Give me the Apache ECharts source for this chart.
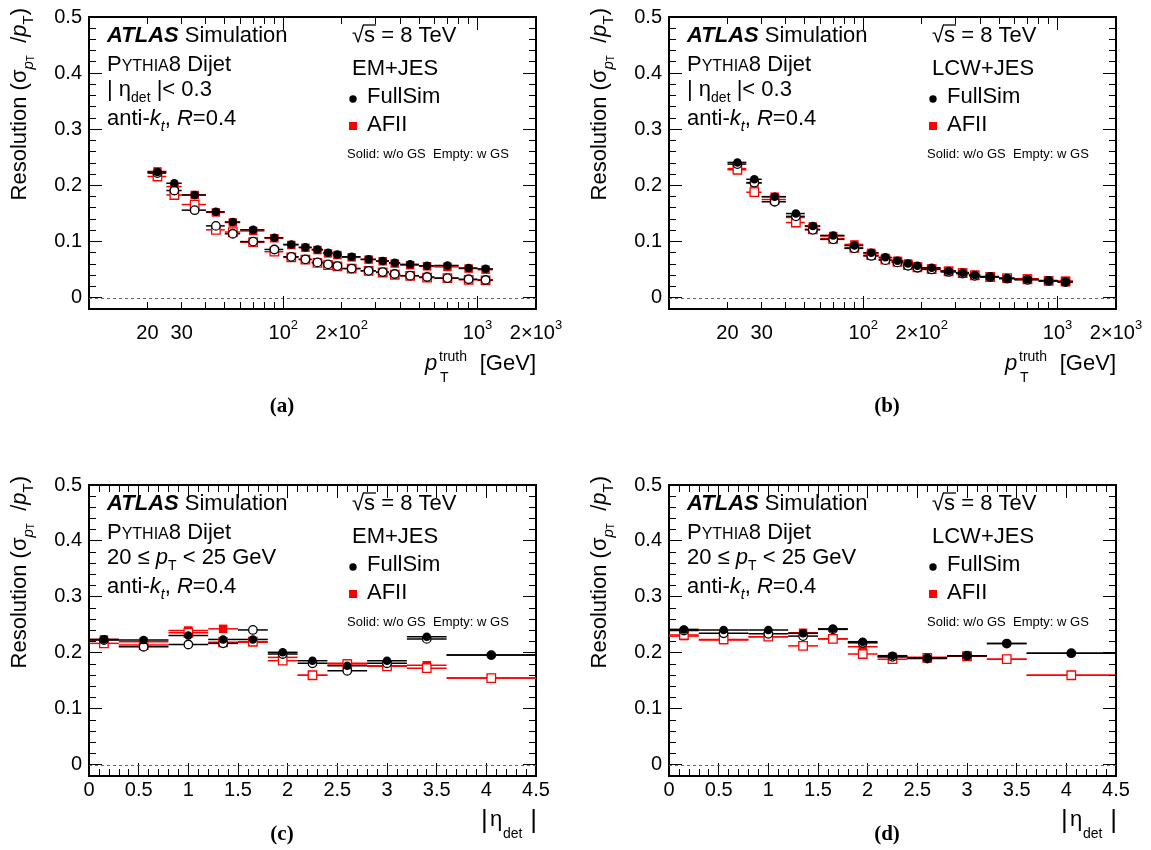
<!DOCTYPE html>
<html><head><meta charset="utf-8">
<script src="https://cdn.jsdelivr.net/npm/echarts@6/dist/echarts.min.js"></script>
<style>html,body{margin:0;padding:0;background:#fff}#c{width:1151px;height:850px}</style>
</head><body><div id="c"></div>
<script>
// ---------------- data ----------------
const ptEdges = [20,25,30,40,50,60,80,100,120,140,160,180,200,250,300,350,400,500,600,800,1000,1200];
const etaEdges = [0,0.3,0.8,1.2,1.5,1.8,2.1,2.4,2.8,3.2,3.6,4.5];

// (a) EM+JES vs pT, |eta|<0.3
const emPtFullSolid = [0.224,0.204,0.183,0.153,0.135,0.121,0.107,0.095,0.090,0.086,0.080,0.077,0.073,0.0685,0.0655,0.0625,0.0595,0.057,0.0575,0.053,0.0515];
const emPtFullEmpty = [0.222,0.191,0.156,0.128,0.114,0.100,0.086,0.073,0.0685,0.063,0.0595,0.0565,0.052,0.048,0.0458,0.0423,0.0393,0.037,0.035,0.033,0.0316];
const emPtAfiiSolid = [0.225,0.198,0.183,0.152,0.134,0.119,0.106,0.094,0.089,0.085,0.079,0.076,0.072,0.068,0.065,0.061,0.058,0.056,0.055,0.052,0.050];
const emPtAfiiEmpty = [0.216,0.183,0.166,0.121,0.117,0.099,0.082,0.072,0.068,0.062,0.058,0.056,0.052,0.048,0.045,0.041,0.039,0.036,0.035,0.032,0.031];

// (b) LCW+JES vs pT, |eta|<0.3
const lcwPtFullSolid = [0.241,0.211,0.180,0.150,0.128,0.111,0.093,0.080,0.072,0.066,0.061,0.057,0.0535,0.0476,0.0446,0.0405,0.0375,0.0346,0.0328,0.0303,0.028];
const lcwPtFullEmpty = [0.238,0.205,0.171,0.145,0.121,0.104,0.088,0.0745,0.067,0.063,0.057,0.0535,0.0505,0.046,0.043,0.039,0.037,0.034,0.032,0.030,0.028];
const lcwPtAfiiSolid = [0.230,0.204,0.180,0.143,0.127,0.110,0.095,0.080,0.071,0.066,0.061,0.056,0.052,0.048,0.045,0.041,0.038,0.035,0.034,0.031,0.030];
const lcwPtAfiiEmpty = [0.228,0.188,0.175,0.134,0.122,0.105,0.089,0.076,0.068,0.064,0.058,0.054,0.051,0.047,0.044,0.040,0.037,0.035,0.033,0.030,0.029];

// (c) EM+JES vs |eta|, 20<=pT<25 GeV
const emEtaFullSolid = [0.224,0.223,0.231,0.224,0.224,0.201,0.186,0.177,0.186,0.229,0.196];
const emEtaFullEmpty = [0.223,0.211,0.215,0.217,0.241,0.198,0.1815,0.168,0.1815,0.225,0.196];
const emEtaAfiiSolid = [0.224,0.220,0.240,0.243,0.219,0.192,0.160,0.1815,0.177,0.178,0.155];
const emEtaAfiiEmpty = [0.217,0.214,0.236,0.219,0.220,0.186,0.160,0.180,0.176,0.1726,0.155];

// (d) LCW+JES vs |eta|, 20<=pT<25 GeV
const lcwEtaFullSolid = [0.242,0.241,0.241,0.235,0.243,0.220,0.195,0.191,0.195,0.2167,0.1994];
const lcwEtaFullEmpty = [0.240,0.235,0.234,0.230,0.242,0.218,0.193,0.190,0.195,0.2167,0.1994];
const lcwEtaAfiiSolid = [0.230,0.223,0.229,0.236,0.225,0.211,0.193,0.192,0.194,0.1887,0.160];
const lcwEtaAfiiEmpty = [0.232,0.224,0.229,0.2125,0.225,0.198,0.1887,0.191,0.194,0.1887,0.160];

// ticks / labels
const yLabelTicks = [0,0.1,0.2,0.3,0.4,0.5];
const yMinorTicks = [0.02,0.04,0.06,0.08,0.12,0.14,0.16,0.18,0.22,0.24,0.26,0.28,0.32,0.34,0.36,0.38,0.42,0.44,0.46,0.48];
const ptLabelTicks = [20,30,100,200,1000,2000];
const ptLabelTexts = ['{m|20}','{m|30}','{m|10}{e|2}','{m|2×10}{e|2}','{m|10}{e|3}','{m|2×10}{e|3}'];
const ptMajorTicks = [100,1000];
const ptMinorTicks = [20,30,40,50,60,70,80,90,200,300,400,500,600,700,800,900,2000];

// ---------------- layout ----------------
const FONT = '"Liberation Sans", Arial, Helvetica, sans-serif';
const SERIF = '"Liberation Serif", "Times New Roman", serif';
const GRIDS = [
  {left:89, top:17, width:447, height:292},
  {left:669, top:17, width:447, height:292},
  {left:89, top:485, width:447, height:291},
  {left:669, top:485, width:447, height:291}
];
const panels = [
  {log:true, edges:ptEdges, fs:emPtFullSolid, fe:emPtFullEmpty, as:emPtAfiiSolid, ae:emPtAfiiEmpty, scheme:'EM+JES', sel:'eta', tag:'(a)', tagX:282, tagY:407},
  {log:true, edges:ptEdges, fs:lcwPtFullSolid, fe:lcwPtFullEmpty, as:lcwPtAfiiSolid, ae:lcwPtAfiiEmpty, scheme:'LCW+JES', sel:'eta', tag:'(b)', tagX:887, tagY:407},
  {log:false, edges:etaEdges, fs:emEtaFullSolid, fe:emEtaFullEmpty, as:emEtaAfiiSolid, ae:emEtaAfiiEmpty, scheme:'EM+JES', sel:'pt', tag:'(c)', tagX:282, tagY:835},
  {log:false, edges:etaEdges, fs:lcwEtaFullSolid, fe:lcwEtaFullEmpty, as:lcwEtaAfiiSolid, ae:lcwEtaAfiiEmpty, scheme:'LCW+JES', sel:'pt', tag:'(d)', tagX:887, tagY:835}
];

const TICK = {color:'#000', width:1};
const MAJ = 13, MIN = 7;
const NOLINE = {show:false, onZero:false};

function xAxesFor(gi, log) {
  const out = [];
  if (log) {
    out.push({type:'log', logBase:10, gridIndex:gi, min:10, max:2000, position:'bottom', axisLine:NOLINE, splitLine:{show:false}, axisTick:{show:false}, minorTick:{show:false},
      axisLabel:{show:true, customValues:ptLabelTicks, margin:10, color:'#000',
        formatter:function(v){ let k=0, d=1e9; ptLabelTicks.forEach((t,i)=>{const dd=Math.abs(Math.log(t)-Math.log(v)); if(dd<d){d=dd;k=i;}}); return ptLabelTexts[k]; },
        rich:{m:{fontSize:20, fontFamily:FONT, color:'#000', lineHeight:28}, e:{fontSize:13, fontFamily:FONT, color:'#000', lineHeight:13, verticalAlign:'top'}}}});
  } else {
    const c = {type:'value', gridIndex:gi, min:0, max:4.5, interval:0.5, axisLine:NOLINE, splitLine:{show:false},
      axisTick:{show:true, inside:true, length:MAJ, lineStyle:TICK},
      minorTick:{show:true, splitNumber:5, length:MIN, lineStyle:TICK}};
    out.push(Object.assign({}, c, {position:'bottom', axisLabel:{show:true, margin:4, color:'#000', fontSize:20, fontFamily:FONT, lineHeight:20, formatter:v=>String(v)}}));
    out.push(Object.assign({}, c, {position:'top', axisLabel:{show:false}}));
  }
  return out;
}
function yAxesFor(gi) {
  return [{type:'value', gridIndex:gi, min:-0.02, max:0.5, position:'left', axisLine:NOLINE, splitLine:{show:false}, axisTick:{show:false},
      axisLabel:{show:true, customValues:yLabelTicks, margin:7, color:'#000', fontSize:20, fontFamily:FONT, formatter:v=>(Math.abs(v)<1e-9?'0':v.toFixed(1))}}];
}

function barSeries(edges, vals, color, xi, yi) {
  const data = vals.map((v,i)=>[edges[i], edges[i+1], v]);
  return {type:'custom', xAxisIndex:xi, yAxisIndex:yi, silent:true, data:data, encode:{x:[0,1], y:2},
    renderItem:function(params, api){
      const y = api.value(2);
      const p1 = api.coord([api.value(0), y]);
      const p2 = api.coord([api.value(1), y]);
      return {type:'line', shape:{x1:p1[0], y1:p1[1], x2:p2[0], y2:p2[1]}, style:{stroke:color, lineWidth:1.5}};
    }};
}
function markerSeries(edges, vals, color, symbol, filled, xi, yi) {
  const data = vals.map((v,i)=>[(edges[i]+edges[i+1])/2, v]);
  return {type:'scatter', xAxisIndex:xi, yAxisIndex:yi, silent:true, data:data, symbol:symbol, symbolSize:8.5,
    itemStyle: filled ? {color:color, borderWidth:0, opacity:1} : {color:'#fff', borderColor:color, borderWidth:1.3, opacity:1}};
}

const option = {backgroundColor:'#fff', animation:false, grid:[], xAxis:[], yAxis:[], series:[], graphic:[]};

function text(x, y, str, extra) {
  return Object.assign({type:'text', x:x, y:y, silent:true, style:Object.assign({text:str, fontSize:22, fontFamily:FONT, fill:'#000', align:'left', verticalAlign:'middle'}, extra && extra.style)}, extra && extra.el);
}
const RICH = {
  n:{fontSize:22, fontFamily:FONT, lineHeight:32},
  i:{fontSize:22, fontFamily:FONT, fontStyle:'italic', lineHeight:32},
  b:{fontSize:22, fontFamily:FONT, fontWeight:'bold', fontStyle:'italic', lineHeight:32},
  sc:{fontSize:16, fontFamily:FONT, lineHeight:16, padding:[4,0,0,0]},
  sub:{fontSize:14, fontFamily:FONT, lineHeight:10, verticalAlign:'bottom'},
  subi:{fontSize:14, fontFamily:FONT, fontStyle:'italic', lineHeight:10, verticalAlign:'bottom'}
};

const axisIdx = [];
panels.forEach((p, gi) => {
  const g = GRIDS[gi];
  option.grid.push({left:g.left, top:g.top, width:g.width, height:g.height, show:true, borderColor:'#000', borderWidth:2, backgroundColor:'transparent', containLabel:false, outerBoundsMode:'none'});
  const xi = option.xAxis.length;
  xAxesFor(gi, p.log).forEach(a=>option.xAxis.push(a));
  const yi = option.yAxis.length;
  yAxesFor(gi).forEach(a=>option.yAxis.push(a));
  axisIdx.push([xi, yi]);

  const order = [[p.as,'#ff0000','rect',true],[p.ae,'#ff0000','rect',false],[p.fe,'#000000','circle',false],[p.fs,'#000000','circle',true]];
  order.forEach((o, k) => {
    option.series.push(barSeries(p.edges, o[0], o[1], xi, yi));
    const ms = markerSeries(p.edges, o[0], o[1], o[2], o[3], xi, yi);
    if (k === 0) {
      ms.markLine = {silent:true, symbol:'none', label:{show:false}, animation:false,
        lineStyle:{type:[3,3], color:'#666', width:1}, emphasis:{disabled:true}, data:[{yAxis:0}]};
    }
    option.series.push(ms);
  });

  const L = g.left, T = g.top;
  const G = option.graphic;
  G.push(text(L+18, T+18.5, '{b|ATLAS} {n|Simulation}', {style:{rich:RICH}}));
  G.push(text(L+263, T+18.5, '√s = 8 TeV'));
  G.push({type:'line', silent:true, shape:{x1:L+274, y1:T+8, x2:L+287, y2:T+8}, style:{stroke:'#000', lineWidth:1.3}});
  G.push(text(L+18, T+47.5, '{n|P}{sc|YTHIA}{n|8 Dijet}', {style:{rich:RICH}}));
  if (p.sel === 'eta') {
    G.push(text(L+18, T+72.5, '{n|| η}{sub|det}{n| |< 0.3}', {style:{rich:RICH}}));
  } else {
    G.push(text(L+18, T+72.5, '{n|20 ≤ }{i|p}{sub|T}{n| < 25 GeV}', {style:{rich:RICH}}));
  }
  G.push(text(L+18, T+101.5, '{n|anti-}{i|k}{subi|t}{n|, }{i|R}{n|=0.4}', {style:{rich:RICH}}));
  G.push(text(L+263, T+51.5, p.scheme));
  G.push({type:'circle', silent:true, shape:{cx:L+264, cy:T+82, r:3.7}, style:{fill:'#000'}});
  G.push(text(L+278, T+79.5, 'FullSim'));
  G.push({type:'rect', silent:true, shape:{x:L+260, y:T+105, width:8, height:8}, style:{fill:'#ff0000'}});
  G.push(text(L+278, T+107.5, 'AFII'));
  G.push(text(L+258, T+137, 'Solid: w/o GS  Empty: w GS', {style:{fontSize:13}}));
  G.push({type:'text', x:L-69, y:T-9, rotation:Math.PI/2, silent:true, style:{
    text:'{n|Resolution (σ}{s1|p}{s2|T}{n|  /}{i|p}{s3|T}{n|)}', align:'right', verticalAlign:'middle', fill:'#000',
    rich:{n:{fontSize:22, fontFamily:FONT, lineHeight:32}, i:{fontSize:22, fontFamily:FONT, fontStyle:'italic', lineHeight:32},
      s1:{fontSize:15, fontFamily:FONT, fontStyle:'italic', lineHeight:12, verticalAlign:'bottom'},
      s2:{fontSize:10, fontFamily:FONT, lineHeight:6, verticalAlign:'bottom'},
      s3:{fontSize:15, fontFamily:FONT, lineHeight:10, verticalAlign:'bottom'}}}});
  if (p.log) {
    G.push(text(L+447, T+347, '[GeV]', {style:{align:'right'}}));
    G.push(text(L+336, T+347, 'p', {style:{fontStyle:'italic'}}));
    G.push(text(L+350, T+340, 'truth', {style:{fontSize:14}}));
    G.push(text(L+351, T+361, 'T', {style:{fontSize:14}}));
  } else {
    G.push(text(L+392, T+336, '|', {style:{fontSize:26}}));
    G.push(text(L+401, T+335, 'η'));
    G.push(text(L+414, T+349, 'det', {style:{fontSize:14}}));
    G.push(text(L+448, T+336, '|', {style:{fontSize:26, align:'right'}}));
  }
  G.push(text(p.tagX, p.tagY, p.tag, {style:{fontFamily:SERIF, fontWeight:'bold', fontSize:21, align:'center'}}));
});

const chart = echarts.init(document.getElementById('c'), null, {renderer:'canvas', width:1151, height:850});
chart.setOption(option);

// frame tick marks (pixel-snapped thin bars), positioned through the axes' own scales
try {
  const tickEls = [];
  panels.forEach((p, gi) => {
    const g = GRIDS[gi];
    const finder = {xAxisIndex: axisIdx[gi][0], yAxisIndex: axisIdx[gi][1]};
    const L = g.left, R = g.left + g.width, B = g.top + g.height, T = g.top;
    const addY = (v, len) => {
      const py = Math.round(chart.convertToPixel(finder, [p.edges[1], v])[1] - 0.5);
      tickEls.push({type:'rect', silent:true, z:100, shape:{x:L, y:py, width:len, height:1}, style:{fill:'#000'}});
      tickEls.push({type:'rect', silent:true, z:100, shape:{x:R-len, y:py, width:len, height:1}, style:{fill:'#000'}});
    };
    yLabelTicks.forEach(v=>addY(v, MAJ));
    yMinorTicks.forEach(v=>addY(v, MIN));
    if (p.log) {
      const addX = (v, len) => {
        const px = Math.round(chart.convertToPixel(finder, [v, 0.1])[0] - 0.5);
        tickEls.push({type:'rect', silent:true, z:100, shape:{x:px, y:B-len, width:1, height:len}, style:{fill:'#000'}});
        tickEls.push({type:'rect', silent:true, z:100, shape:{x:px, y:T, width:1, height:len}, style:{fill:'#000'}});
      };
      ptMajorTicks.forEach(v=>addX(v, MAJ));
      ptMinorTicks.forEach(v=>addX(v, MIN));
    }
  });
  option.graphic = option.graphic.concat(tickEls);
  chart.setOption(option, true);
} catch (e) { /* keep the chart without extra ticks */ }
</script>
</body></html>
